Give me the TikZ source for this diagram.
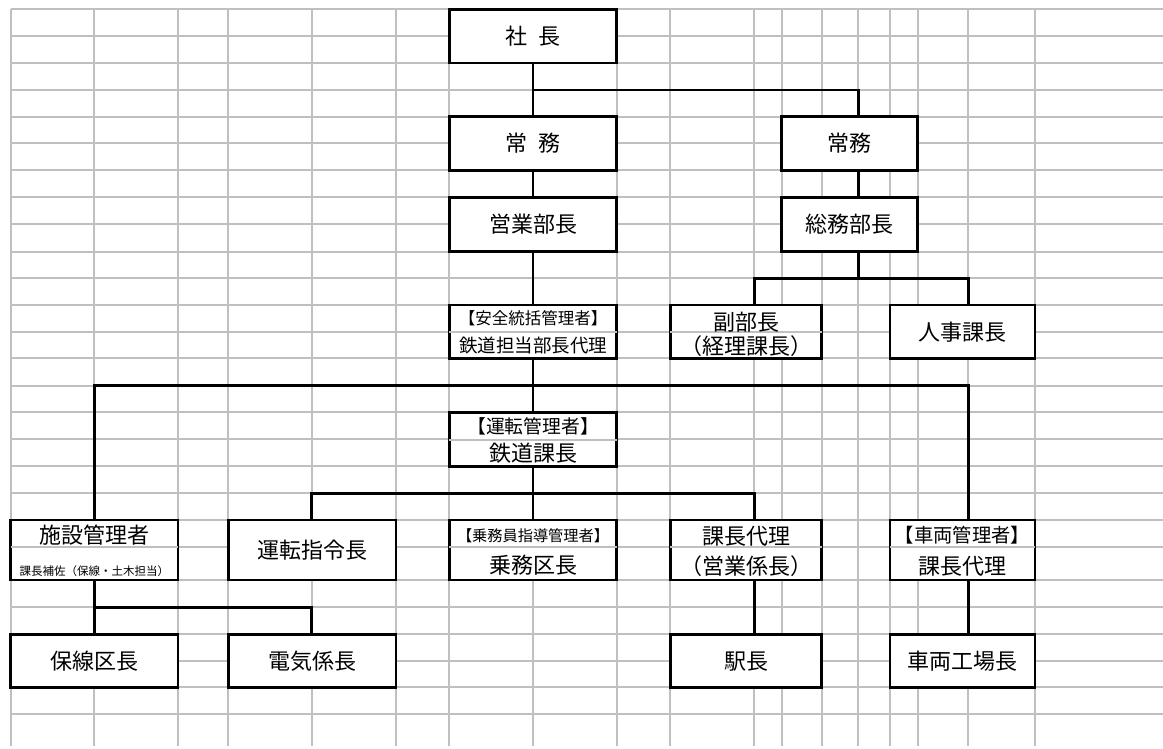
\documentclass[tikz,border=0pt]{standalone}
\usepackage{fontspec}
\setmainfont{Noto Sans CJK JP}
\usetikzlibrary{calc}
\definecolor{gridgray}{RGB}{192,192,192}
\begin{document}
\begin{tikzpicture}[x=1pt,y=-1pt,
  gridline/.style={draw=gridgray, line width=2pt},
  box/.style={draw=black, line width=2.7pt, fill=white, inner sep=0pt,
    font=\fontsize{22}{22}\selectfont, text height=19.36pt, text depth=2.64pt},
  conn/.style={draw=black, line width=2.7pt, line join=miter},
  txt/.style={inner sep=0pt, anchor=base},
  midline/.style={draw=gridgray, line width=2pt, shorten <=1.35pt, shorten >=1.35pt}]
\useasboundingbox (0,0) rectangle (1163,749);
% grid
\foreach \x in {10.7,94.3,178,228.3,311.7,396,449.3,533.3,616.7,670.3,754.3,781.7,821.7,858.3,890,917.7,968.3,1035}
  \draw[gridline] (\x,9.3) -- (\x,746);
\foreach \y in {9.3,36,63,90,116.7,143.3,170.3,197.3,224.3,251.7,278.3,305,331.7,358.3,385.7,412.3,439,466,493.3,520,546.7,580,607.3,634.3,661,687.3,714.3}
  \draw[gridline] (10.7,\y) -- (1163,\y);
% boxes
\node[box, minimum width=167.4pt, minimum height=53.7pt] (shacho) at (533,36.15) {社\hspace{11pt}長};
\node[box, minimum width=167.4pt, minimum height=53.6pt] (jomuL) at (533,143.5) {常\hspace{11pt}務};
\node[box, minimum width=167.4pt, minimum height=54.4pt] (eigyo) at (533,224.5) {営業部長};
\node[box, minimum width=136pt, minimum height=53.6pt] (jomuR) at (849.7,143.5) {常務};
\node[box, minimum width=136pt, minimum height=54.4pt] (somu) at (849.7,224.5) {総務部長};
\node[box, minimum width=167.4pt, minimum height=53.3pt] (anzen) at (533,331.65) {};
\node[box, minimum width=151.4pt, minimum height=53.3pt] (fuku) at (746,331.65) {};
\node[box, minimum width=145pt, minimum height=53.3pt] (jinji) at (962.5,331.65) {人事課長};
\node[box, minimum width=167.4pt, minimum height=54.4pt] (unten) at (533,439.5) {};
\node[box, minimum width=167.3pt, minimum height=60pt] (shisetsu) at (94.35,550) {};
\node[box, minimum width=167.7pt, minimum height=60pt] (shirei) at (312.15,550) {運転指令長};
\node[box, minimum width=167.4pt, minimum height=60pt] (jomu) at (533,550) {};
\node[box, minimum width=151.4pt, minimum height=60pt] (kacho) at (746,550) {};
\node[box, minimum width=145pt, minimum height=60pt] (sharyo) at (962.5,550) {};
\node[box, minimum width=167.3pt, minimum height=53pt] (hosen) at (94.35,660.8) {保線区長};
\node[box, minimum width=167.7pt, minimum height=53pt] (denki) at (312.15,660.8) {電気係長};
\node[box, minimum width=151.4pt, minimum height=53pt] (eki) at (746,660.8) {駅長};
\node[box, minimum width=145pt, minimum height=53pt] (kojo) at (962.5,660.8) {車両工場長};
% inner grid lines of two-row boxes
\draw[midline] (anzen.west) -- (anzen.east);
\draw[midline] (fuku.west) -- (fuku.east);
\draw[midline] (unten.west) -- (unten.east);
\foreach \b in {shisetsu,jomu,kacho,sharyo}
  \draw[midline] ([yshift=3.3pt]\b.west) -- ([yshift=3.3pt]\b.east);
% two-line texts
\node[txt, font=\fontsize{16.5}{16.5}\selectfont] (anzenA) at (533,324.6) {【安全統括管理者】};
\node[txt, font=\fontsize{18.5}{18.5}\selectfont] (anzenB) at (533,352.0) {鉄道担当部長代理};
\node[txt, font=\fontsize{22}{22}\selectfont] (fukuA) at (746,330.1) {副部長};
\node[txt, font=\fontsize{22}{22}\selectfont] (fukuB) at (746,354.4) {（経理課長）};
\node[txt, font=\fontsize{18.8}{18.8}\selectfont] (untenA) at (533,433.8) {【運転管理者】};
\node[txt, font=\fontsize{22}{22}\selectfont] (untenB) at (533,461.4) {鉄道課長};
\node[txt, font=\fontsize{22}{22}\selectfont] (shisetsuA) at (94.35,543.4) {施設管理者};
\node[txt, font=\fontsize{11.5}{11.5}\selectfont] (shisetsuB) at (94.35,575.4) {課長補佐（保線・土木担当）};
\node[txt, font=\fontsize{15.2}{15.2}\selectfont] (jomuA) at (533,541.3) {【乗務員指導管理者】};
\node[txt, font=\fontsize{22}{22}\selectfont] (jomuB) at (533,573.4) {乗務区長};
\node[txt, font=\fontsize{22}{22}\selectfont] (kachoA) at (746,544.4) {課長代理};
\node[txt, font=\fontsize{22}{22}\selectfont] (kachoB) at (746,574.4) {（営業係長）};
\node[txt, font=\fontsize{19.3}{19.3}\selectfont] (sharyoA) at (962.5,542.3) {【車両管理者】};
\node[txt, font=\fontsize{22}{22}\selectfont] (sharyoB) at (962.5,574.4) {課長代理};
% connector columns and rows
\coordinate (xl) at (94.3,0);
\coordinate (xs) at (311.7,0);
\coordinate (xa) at (754.3,0);
\coordinate (xb) at (858.3,0);
\coordinate (xc) at (968.3,0);
\coordinate (ya) at (0,90);
\coordinate (yb) at (0,278.3);
\coordinate (yc) at (0,385.7);
\coordinate (yd) at (0,493.3);
\coordinate (ye) at (0,607.3);
% connectors
\draw[conn] (shacho.south) -- (jomuL.north);
\draw[conn] (shacho.south |- ya) -- (xb |- ya) -- (jomuR.north -| xb);
\draw[conn] (jomuL.south) -- (eigyo.north);
\draw[conn] (jomuR.south -| xb) -- (somu.north -| xb);
\draw[conn] (eigyo.south) -- (anzen.north);
\draw[conn] (somu.south -| xb) -- (xb |- yb);
\draw[conn] (fuku.north -| xa) -- (xa |- yb) -- (xc |- yb) -- (jinji.north -| xc);
\draw[conn] (anzen.south) -- (unten.north);
\draw[conn] (shisetsu.north -| xl) -- (xl |- yc) -- (xc |- yc) -- (sharyo.north -| xc);
\draw[conn] (unten.south) -- (jomu.north);
\draw[conn] (shirei.north -| xs) -- (xs |- yd) -- (xa |- yd) -- (kacho.north -| xa);
\draw[conn] (shisetsu.south -| xl) -- (hosen.north -| xl);
\draw[conn] (xl |- ye) -- (xs |- ye) -- (denki.north -| xs);
\draw[conn] (kacho.south -| xa) -- (eki.north -| xa);
\draw[conn] (sharyo.south -| xc) -- (kojo.north -| xc);
\end{tikzpicture}
\end{document}
